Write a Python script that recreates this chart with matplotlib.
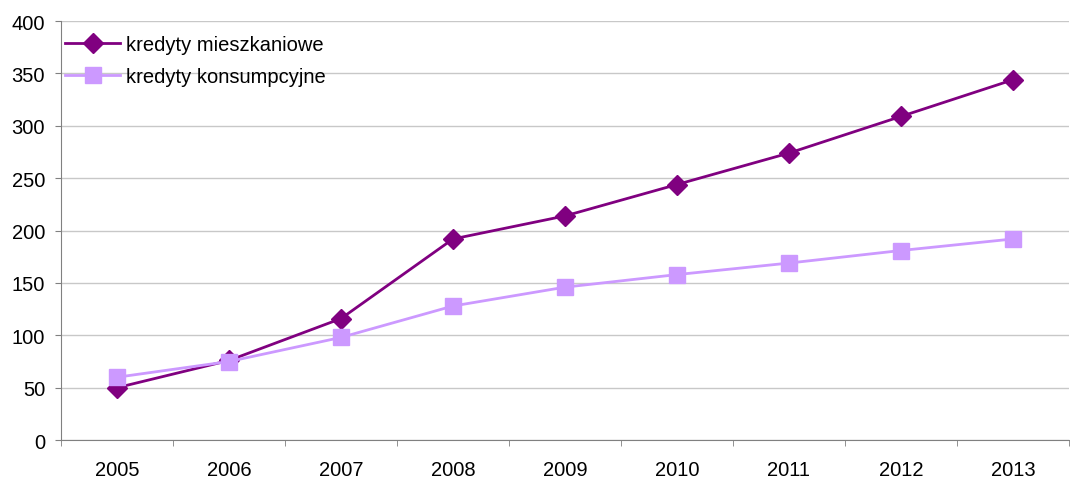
import numpy as np
import matplotlib.pyplot as plt

plt.rcParams['font.family'] = ['Liberation Sans', 'DejaVu Sans']

# Data
years = ["2005", "2006", "2007", "2008", "2009", "2010", "2011", "2012", "2013"]
mieszkaniowe = [50, 76, 116, 192, 214, 244, 274, 309, 344]
konsumpcyjne = [60, 75, 98, 128, 146, 158, 169, 181, 192]

x = np.arange(len(years))

fig = plt.figure(figsize=(10.70, 4.81), dpi=100)
ax = fig.add_axes([0.057, 0.083, 0.942, 0.871])

ax.plot(x, mieszkaniowe, color='#800080', lw=2, marker='D', ms=10.5,
        label='kredyty mieszkaniowe', zorder=3)
ax.plot(x, konsumpcyjne, color='#CC99FF', lw=2, marker='s', ms=11,
        label='kredyty konsumpcyjne', zorder=3)

ax.set_xlim(-0.5, len(years) - 0.5)
ax.set_ylim(0, 400)
ax.set_yticks(np.arange(0, 401, 50))
ax.set_xticks(x)
ax.set_xticklabels(years)
ax.set_xticks(np.arange(-0.5, len(years)), minor=True)
ax.tick_params(axis='x', which='major', length=0, pad=14, labelsize=14.5)
ax.tick_params(axis='x', which='minor', length=4.5, color='#808080')
ax.tick_params(axis='y', length=4.5, color='#808080', labelsize=14.5, pad=7)

ax.grid(axis='y', color='#C8C8C8', lw=1)
ax.set_axisbelow(True)
for s in ['top', 'right']:
    ax.spines[s].set_visible(False)
for s in ['left', 'bottom']:
    ax.spines[s].set_color('#808080')

ax.legend(loc='upper left', bbox_to_anchor=(-0.0099, 1.0), frameon=False,
          fontsize=14.5, handlelength=2.75, borderaxespad=0.3,
          labelspacing=0.65, handletextpad=0.25)

fig.savefig('out.png', dpi=100)
